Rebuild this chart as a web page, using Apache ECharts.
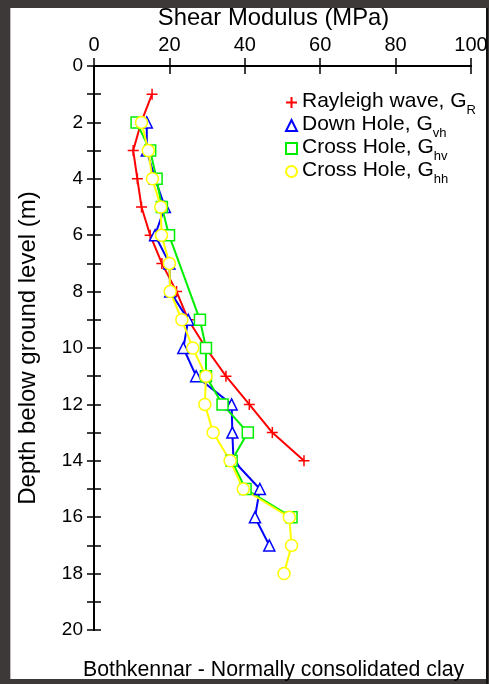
<!DOCTYPE html>
<html><head><meta charset="utf-8">
<script src="https://cdn.jsdelivr.net/npm/echarts@6/dist/echarts.min.js"></script>
<style>
html,body{margin:0;padding:0;background:#3d3939;width:489px;height:684px;overflow:hidden;}
#panel{position:absolute;left:10px;top:8px;width:475px;height:671px;background:#fff;border-left:1px solid #bbb;}
#edge{position:absolute;left:486px;top:8px;width:2px;height:676px;background:#111;}
#chart{position:absolute;left:0;top:0;width:489px;height:684px;}
</style></head>
<body><div id="panel"></div><div id="edge"></div><div id="chart"></div>
<script>
const xTicks = [0, 20, 40, 60, 80, 100];
const depthR = [1,2,3,4,5,6,7,8,9,10,11,12,13,14];
const gR = [15.4,12.5,10.4,11.5,12.6,14.9,18.0,21.9,25.0,29.7,35.0,41.2,47.3,55.7];
const depthVH = [2,3,4,5,6,7,8,9,10,11,12,13,14,15,16,17];
const gVH = [14.0,14.0,16.2,18.8,16.2,20.0,20.2,25.0,23.7,27.1,36.5,36.7,37.0,44.0,42.7,46.5];
const depthHV = [2,3,4,5,6,9,10,11,12,13,14,15,16];
const gHV = [11.3,14.9,16.6,18.0,19.9,28.1,29.7,29.7,34.1,40.8,36.5,40.2,52.4];
const depthHH = [2,3,4,5,6,7,8,9,10,11,12,13,14,15,16,17,18];
const gHH = [12.6,14.4,15.5,17.7,17.9,20.0,20.2,23.3,26.2,29.7,29.4,31.6,36.1,39.6,51.8,52.4,50.4];
const names = ['Rayleigh wave, G_R','Down Hole, G_vh','Cross Hole, G_hv','Cross Hole, G_hh'];

const pair = (g, d) => g.map((v, i) => [v, d[i]]);
const FONT = 'Liberation Sans, Arial, sans-serif';
const PLUS = 'path://M0,5L10,5M5,0L5,10';

const chart = echarts.init(document.getElementById('chart'), null, {renderer:'canvas'});
function mk(name, data, color, symbol, size, fill) {
  return {
    name, type:'line', data, symbol, symbolSize: size,
    showSymbol:true,
    lineStyle:{color, width:2},
    itemStyle:{color: fill, borderColor: color, borderWidth: 1.5},
    emphasis:{disabled:true}, animation:false, z: 2
  };
}
chart.setOption({
  animation:false,
  backgroundColor:'transparent',
  textStyle:{fontFamily:FONT},
  grid:{left:94, right:18, top:66, bottom:54, outerBoundsMode:'none', containLabel:false},
  title:[{text:'Bothkennar - Normally consolidated clay', left:78, top:655,
    textStyle:{fontFamily:FONT, fontSize:21.3, fontWeight:'normal', color:'#000'}}],
  xAxis:[{
    type:'value', position:'top', min:0, max:100, interval:20,
    name:'Shear Modulus (MPa)', nameLocation:'middle', nameGap:32,
    nameTextStyle:{fontFamily:FONT, fontSize:23.8, color:'#000', padding:[0,18,0,0]},
    axisLine:{show:true, lineStyle:{color:'#000', width:2}},
    axisTick:{show:true, inside:true, length:8, lineStyle:{color:'#000', width:1.5}},
    axisLabel:{fontFamily:FONT, fontSize:20, color:'#000', margin:11,
      formatter: v => xTicks.includes(v) ? String(v) : ''},
    splitLine:{show:false}
  },{
    type:'value', position:'bottom', min:0, max:100, interval:20,
    axisLine:{show:true, lineStyle:{color:'#000', width:2}},
    axisTick:{show:true, inside:true, length:8, lineStyle:{color:'#000', width:1.5}},
    axisLabel:{show:false}, splitLine:{show:false}
  }],
  yAxis:[{
    type:'value', inverse:true, min:0, max:20, interval:1, position:'left',
    name:'Depth below ground level (m)', nameLocation:'middle', nameGap:54, nameRotate:90,
    nameTextStyle:{fontFamily:FONT, fontSize:24, color:'#000'},
    axisLine:{show:true, lineStyle:{color:'#000', width:2}},
    axisTick:{show:true, inside:true, length:7, lineStyle:{color:'#000', width:1.5}},
    axisLabel:{fontFamily:FONT, fontSize:19, color:'#000', margin:11,
      formatter: v => (v % 2 === 0 ? String(v) : '')},
    splitLine:{show:false}
  },{
    type:'value', inverse:true, min:0, max:20, interval:1, position:'right',
    axisLine:{show:true, lineStyle:{color:'#000', width:2}},
    axisTick:{show:true, inside:true, length:7, lineStyle:{color:'#000', width:1.5}},
    axisLabel:{show:false}, splitLine:{show:false}
  }],
  legend:{
    orient:'vertical', left:280, top:86, itemGap:-3, itemWidth:11, itemHeight:11,
    selectedMode:false,
    data:[
      {name:names[0], icon:PLUS},
      {name:names[1], icon:'triangle'},
      {name:names[2], icon:'rect'},
      {name:names[3], icon:'circle'}
    ],
    formatter: n => { const p = n.split('_'); return '{a|' + p[0] + '}{s|' + p[1] + '}'; },
    textStyle:{fontFamily:FONT, fontSize:21, color:'#000', lineHeight:19, rich:{
      a:{fontFamily:FONT, fontSize:21, color:'#000', lineHeight:19, verticalAlign:'bottom'},
      s:{fontFamily:FONT, fontSize:13, color:'#000', lineHeight:19, verticalAlign:'bottom', padding:[0,0,-5,0]}
    }}
  },
  series:[
    mk(names[0], pair(gR, depthR), '#ff0000', PLUS, 11, '#ff0000'),
    mk(names[1], pair(gVH, depthVH), '#0000ff', 'triangle', 11, '#ffffff'),
    mk(names[2], pair(gHV, depthHV), '#00ee00', 'rect', 11, '#ffffff'),
    mk(names[3], pair(gHH, depthHH), '#ffff00', 'circle', 12, '#ffffff')
  ]
});
</script></body></html>
